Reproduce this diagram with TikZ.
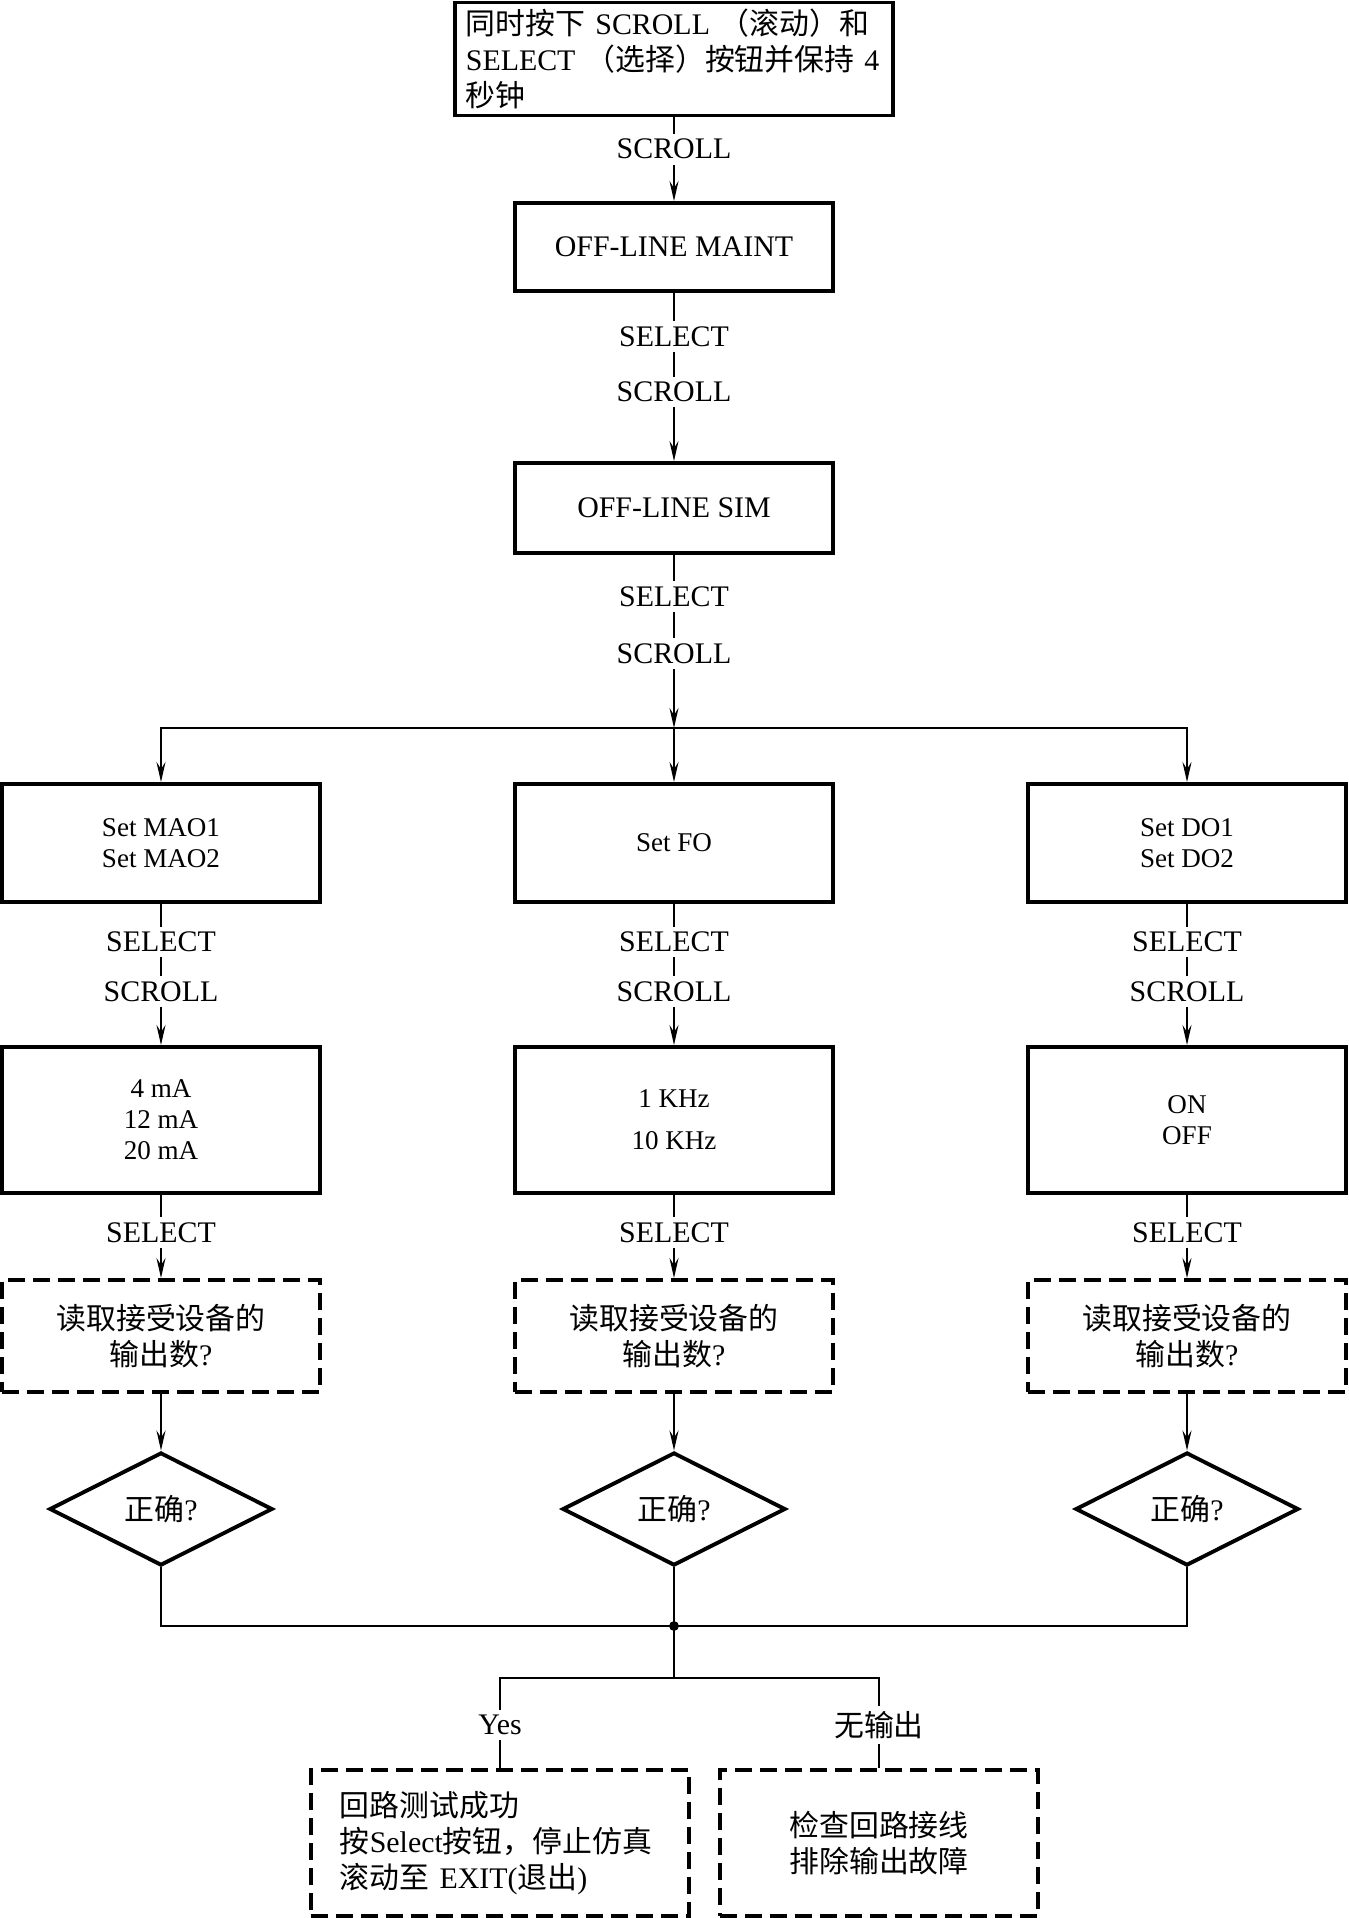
\documentclass[tikz,border=0pt]{standalone}
\usepackage{fontspec}
\setmainfont{Liberation Serif}
\newfontfamily\cjk{Noto Sans CJK SC}
\newcommand{\zh}[1]{{\cjk #1}}
\usetikzlibrary{shapes.geometric,arrows.meta}

\begin{document}
\begin{tikzpicture}[
    x=0.01cm, y=-0.01cm,
    line width=0.6pt,
    every node/.style={font=\fontsize{8.5}{10.2}\selectfont,align=center,inner sep=0pt},
    box/.style={draw,line width=1.1pt,minimum width=3.18cm},
    setbox/.style={box,minimum height=1.18cm,font=\fontsize{7.7}{8.8}\selectfont},
    valbox/.style={box,minimum height=1.46cm,font=\fontsize{7.7}{8.8}\selectfont},
    readbox/.style={box,dash pattern=on 1.7mm off 0.8mm,minimum height=1.12cm},
    choice/.style={draw,diamond,line width=1.1pt,minimum width=2.23cm,minimum height=1.13cm},
    lbl/.style={fill=white,inner sep=1.5pt},
    arr/.style={-{Stealth[length=2mm,width=0.9mm,inset=0.7mm]}}
]
\useasboundingbox (0,0) rectangle (1348,1918);

\node[box,minimum width=4.38cm,minimum height=1.13cm,text width=4.16cm,align=left] (start) at (674,59)
    {\zh{同时按下} SCROLL \zh{（滚动）和}\\SELECT \zh{（选择）按钮并保持}~4\\\zh{秒钟}};
\node[box,minimum height=0.88cm] (maint) at (674,247) {OFF-LINE MAINT};
\node[box,minimum height=0.90cm] (sim) at (674,508) {OFF-LINE SIM};

\node[setbox] (mao) at (161,843) {Set MAO1\\Set MAO2};
\node[setbox] (fo) at (674,843) {Set FO};
\node[setbox] (dout) at (1187,843) {Set DO1\\Set DO2};

\node[valbox] (ma) at (161,1120) {4 mA\\12 mA\\20 mA};
\node[valbox,font=\fontsize{7.7}{12}\selectfont] (khz) at (674,1120) {1 KHz\\10 KHz};
\node[valbox] (onoff) at (1187,1120) {ON\\OFF};

\node[readbox] (rd1) at (161,1336) {\zh{读取接受设备的}\\\zh{输出数}?};
\node[readbox] (rd2) at (674,1336) {\zh{读取接受设备的}\\\zh{输出数}?};
\node[readbox] (rd3) at (1187,1336) {\zh{读取接受设备的}\\\zh{输出数}?};

\node[choice] (chk1) at (161,1509) {\zh{正确}?};
\node[choice] (chk2) at (674,1509) {\zh{正确}?};
\node[choice] (chk3) at (1187,1509) {\zh{正确}?};

\node[readbox,minimum width=3.78cm,minimum height=1.46cm,text width=3.2cm,align=left] (pass) at (500,1843)
    {\zh{回路测试成功}\\\zh{按}Select\zh{按钮，停止仿真}\\\zh{滚动至} EXIT(\zh{退出})};
\node[readbox,minimum height=1.46cm] (fix) at (879,1843) {\zh{检查回路接线}\\\zh{排除输出故障}};

\coordinate (bus) at (674,728);
\coordinate (join) at (674,1626);
\coordinate (fork) at (674,1678);

\draw[arr] (start) -- node[lbl,pos=.38]{SCROLL} (maint);
\draw[arr] (maint) -- node[lbl,pos=.26]{SELECT} node[lbl,pos=.59]{SCROLL} (sim);
\draw[arr] (sim) -- node[lbl,pos=.24]{SELECT} node[lbl,pos=.57]{SCROLL} (bus);
\draw[arr] (bus) -| (mao);
\draw[arr] (bus) -- (fo);
\draw[arr] (bus) -| (dout);

\draw[arr] (mao) -- node[lbl,pos=.27]{SELECT} node[lbl,pos=.62]{SCROLL} (ma);
\draw[arr] (fo) -- node[lbl,pos=.27]{SELECT} node[lbl,pos=.62]{SCROLL} (khz);
\draw[arr] (dout) -- node[lbl,pos=.27]{SELECT} node[lbl,pos=.62]{SCROLL} (onoff);

\draw[arr] (ma) -- node[lbl,pos=.45]{SELECT} (rd1);
\draw[arr] (khz) -- node[lbl,pos=.45]{SELECT} (rd2);
\draw[arr] (onoff) -- node[lbl,pos=.45]{SELECT} (rd3);

\draw[arr] (rd1) -- (chk1);
\draw[arr] (rd2) -- (chk2);
\draw[arr] (rd3) -- (chk3);

\draw (chk1.south) |- (join) -| (chk3.south);
\draw (chk2) -- (join);
\fill (join) circle (1.4pt);
\draw (join) -- (fork);
\draw (fork) -| node[lbl,pos=.76]{Yes} (pass);
\draw (fork) -| node[lbl,pos=.76]{\zh{无输出}} (fix);
\end{tikzpicture}
\end{document}
